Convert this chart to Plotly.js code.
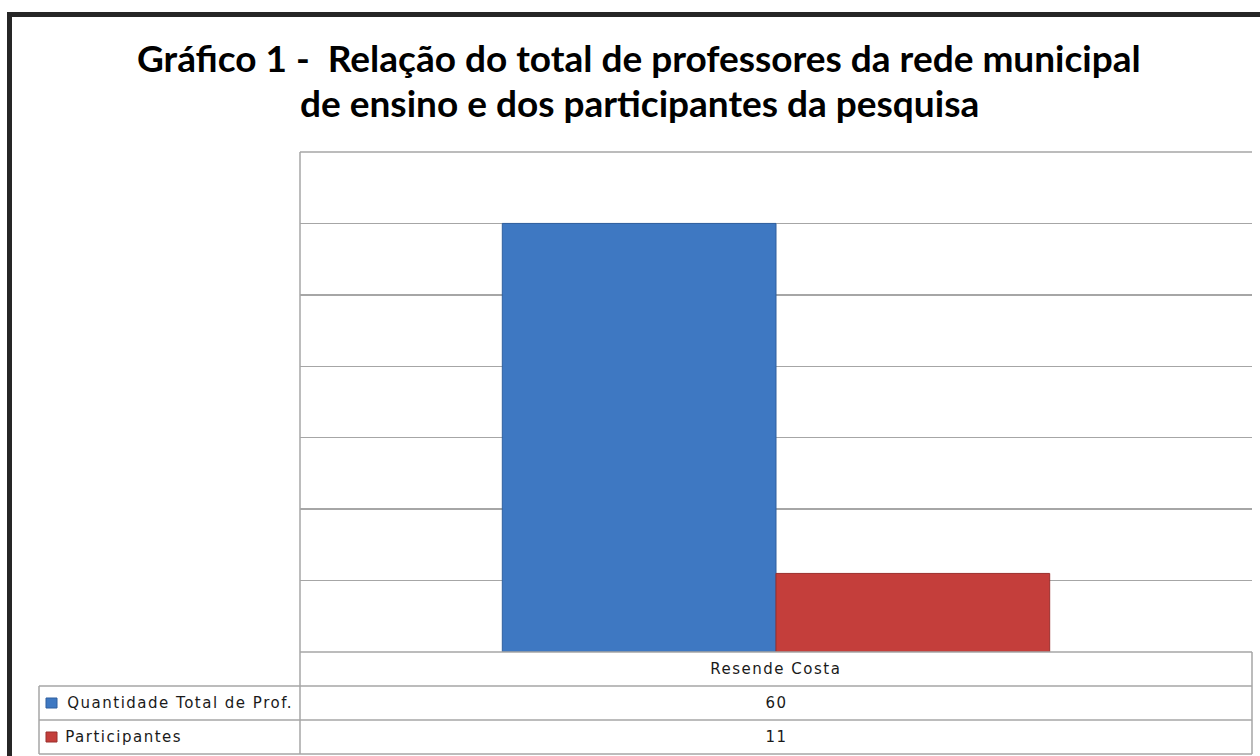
<!DOCTYPE html>
<html>
<head>
<meta charset="utf-8">
<script src="https://cdn.plot.ly/plotly-3.0.1.min.js"></script>
<style>
html,body{margin:0;padding:0;background:#fff;}
#chart{width:1260px;height:756px;}
#chart .annotation:not([data-index="0"]):not([data-index="1"]) text{letter-spacing:1.5px;}
</style>
</head>
<body>
<div id="chart"></div>
<script>
// ---- data ----
const categories = ['Resende Costa'];
const seriesNames = ['Quantidade Total de Prof.', 'Participantes'];
const totalProf = [60];
const participantes = [11];
const titleLines = ['Gráfico 1 -\u00a0 Relação do total de professores da rede municipal', 'de ensino e dos participantes da pesquisa'];

// ---- layout helpers (pixel -> paper) ----
const W = 1260, H = 756;
const L = 300, R = 1252, T = 152, B = 652;
const px = x => (x - L) / (R - L);
const py = y => (B - y) / (B - T);

const colors = ['#3e78c2', '#c43e3b'];
const lineColors = ['#2f5f9e', '#9a2f2d'];
const seriesVals = [totalProf, participantes];

const traces = seriesNames.map((n, i) => ({
  type: 'bar', name: n, x: categories, y: seriesVals[i],
  marker: {color: colors[i], line: {color: lineColors[i], width: 1}},
  hoverinfo: 'none'
}));

const gridC = '#a6a6a6';
const shapes = [];
// outer dark frame (top and left)
shapes.push({type:'rect', xref:'paper', yref:'paper', x0:px(7), x1:px(1262), y0:py(12), y1:py(17), fillcolor:'#262626', line:{width:0}, layer:'above'});
shapes.push({type:'rect', xref:'paper', yref:'paper', x0:px(7), x1:px(12), y0:py(12), y1:py(760), fillcolor:'#262626', line:{width:0}, layer:'above'});
// plot-area left line extended through table
shapes.push({type:'line', xref:'paper', yref:'paper', x0:0, x1:0, y0:py(T), y1:py(754), line:{color:gridC, width:1.5}});
// top line of plot area
shapes.push({type:'line', xref:'paper', yref:'paper', x0:0, x1:1, y0:1, y1:1, line:{color:gridC, width:1.5}});
// data table horizontal lines
[[300,652],[39,686],[39,720],[39,754]].forEach(([x0,y]) => {
  shapes.push({type:'line', xref:'paper', yref:'paper', x0:px(x0), x1:1, y0:py(y), y1:py(y), line:{color:gridC, width:1.5}});
});
// table left and right borders
shapes.push({type:'line', xref:'paper', yref:'paper', x0:px(39), x1:px(39), y0:py(686), y1:py(754), line:{color:gridC, width:1.5}});
shapes.push({type:'line', xref:'paper', yref:'paper', x0:1, x1:1, y0:py(652), y1:py(754), line:{color:gridC, width:1.5}});

const tfont = {family:'DejaVu Sans, Verdana, sans-serif', size:15, color:'#1a1a1a'};
const annotations = [];
// title lines (indices 0 and 1)
const titleY = [57, 103];
titleLines.forEach((t, i) => {
  annotations.push({xref:'paper', yref:'paper', x:px(639), y:py(titleY[i]), text:'<b>' + t + '</b>', showarrow:false,
    font:{family:'Lato, Carlito, sans-serif', size:37, color:'#000000'}, xanchor:'center', yanchor:'middle'});
});
annotations.push({xref:'paper', yref:'paper', x:0.5, y:py(669), text:categories[0], showarrow:false, font:tfont, xanchor:'center', yanchor:'middle'});
const rowY = [703, 737];
const labelCx = [180, 124];
seriesNames.forEach((n, i) => {
  shapes.push({type:'rect', xref:'paper', yref:'paper', x0:px(46), x1:px(57), y0:py(rowY[i]-5), y1:py(rowY[i]+5), fillcolor:colors[i], line:{color:lineColors[i], width:1}});
  annotations.push({xref:'paper', yref:'paper', x:px(labelCx[i]), y:py(rowY[i]), text:n, showarrow:false, font:tfont, xanchor:'center', yanchor:'middle'});
  annotations.push({xref:'paper', yref:'paper', x:0.5, y:py(rowY[i]), text:String(seriesVals[i][0]), showarrow:false, font:tfont, xanchor:'center', yanchor:'middle'});
});

const layout = {
  width: W, height: H,
  margin: {l: L, r: W - R, t: T, b: H - B, pad: 0},
  paper_bgcolor: '#ffffff', plot_bgcolor: '#ffffff',
  showlegend: false,
  barmode: 'group', bargap: 0.425, bargroupgap: 0,
  xaxis: {showticklabels: false, showgrid: false, zeroline: false, showline: false, ticks: '', fixedrange: true},
  yaxis: {range: [0, 70], dtick: 10, showticklabels: false, showgrid: true, gridcolor: gridC, gridwidth: 1.5, zeroline: false, showline: false, ticks: '', fixedrange: true},
  shapes: shapes,
  annotations: annotations
};

Plotly.newPlot('chart', traces, layout, {displayModeBar: false, staticPlot: true});
</script>
</body>
</html>
